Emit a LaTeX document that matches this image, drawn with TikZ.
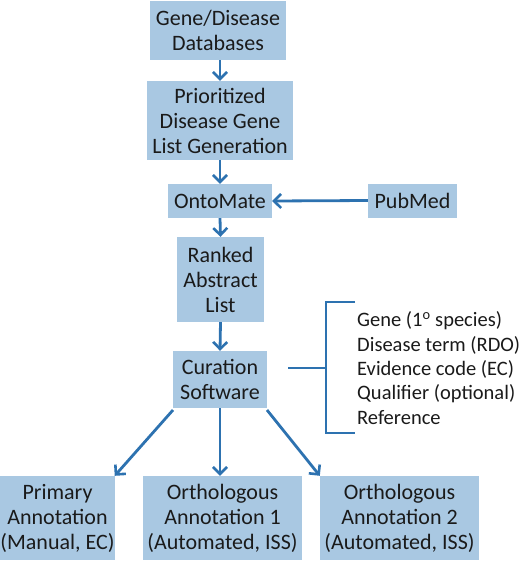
\documentclass[tikz,border=0pt]{standalone}
\usepackage{fontspec}
\setmainfont{Carlito}
\usetikzlibrary{arrows.meta}
\definecolor{boxfill}{HTML}{A9C8E2}
\definecolor{arrowc}{HTML}{2D72B0}
\definecolor{txt}{HTML}{1A1A1A}
\begin{document}
\begin{tikzpicture}[x=1pt,y=-1pt,
  box/.style={fill=boxfill,draw=none,inner sep=0pt,align=center,text=txt,
    font=\fontsize{22}{25}\selectfont},
  conn/.style={draw=arrowc,line width=2.8pt,-{Straight Barb[length=7pt,width=14pt,line width=2.6pt]}},
  brk/.style={draw=arrowc,line width=2.8pt}]
\useasboundingbox (0,0) rectangle (520,563);
\node[box,minimum width=136pt,minimum height=59pt] (g1) at (218,30.5) {Gene/Disease\\Databases};
\node[box,minimum width=146pt,minimum height=79pt] (g2) at (220,120.5) {Prioritized\\Disease Gene\\List Generation};
\node[box,minimum width=104pt,minimum height=34pt] (onto) at (220,201) {OntoMate};
\node[box,minimum width=89pt,minimum height=34pt] (pub) at (412.5,200.5) {PubMed};
\node[box,minimum width=87pt,minimum height=85pt] (rank) at (220.5,279.5) {Ranked\\Abstract\\List};
\node[box,minimum width=94pt,minimum height=57pt] (cur) at (220,379.5) {Curation\\Software};
\node[box,minimum width=111pt,minimum height=84pt] (prim) at (57.5,518) {Primary\\Annotation\\(Manual, EC)};
\node[box,minimum width=159pt,minimum height=84pt] (orth1) at (222.5,518) {Orthologous\\Annotation 1\\(Automated, ISS)};
\node[box,minimum width=159pt,minimum height=84pt] (orth2) at (399.5,518) {Orthologous\\Annotation 2\\(Automated, ISS)};
\draw[conn] (g1.south -| g2) -- (g2.north);
\draw[conn] (g2.south) -- (onto.north);
\draw[conn] (pub.west) -- (onto.east);
\draw[conn] (onto.south) -- (rank.north);
\draw[conn] (rank.south) -- (cur.north);
\coordinate (c1) at (173,410);
\coordinate (c3) at (267,410);
\draw[conn] (c1) -- (prim.north east);
\draw[conn] (cur.south) -- (cur.south |- orth1.north);
\draw[conn] (c3) -- (orth2.north west);
\coordinate (b0) at (288,368);
\coordinate (b1) at (326,368);
\coordinate (bt) at (326,302);
\coordinate (bb) at (326,433);
\coordinate (bt2) at (355,302);
\coordinate (bb2) at (355,433);
\draw[brk] (b0) -- (b1);
\draw[brk] (bt2) -- (bt) -- (bb) -- (bb2);
\node[anchor=west,align=left,inner sep=0pt,text=txt,font=\fontsize{20.5}{24.3}\selectfont] (list) at (357,368)
 {Gene (1\textsuperscript{o} species)\\Disease term (RDO)\\Evidence code (EC)\\Qualifier (optional)\\Reference};
\end{tikzpicture}
\end{document}
